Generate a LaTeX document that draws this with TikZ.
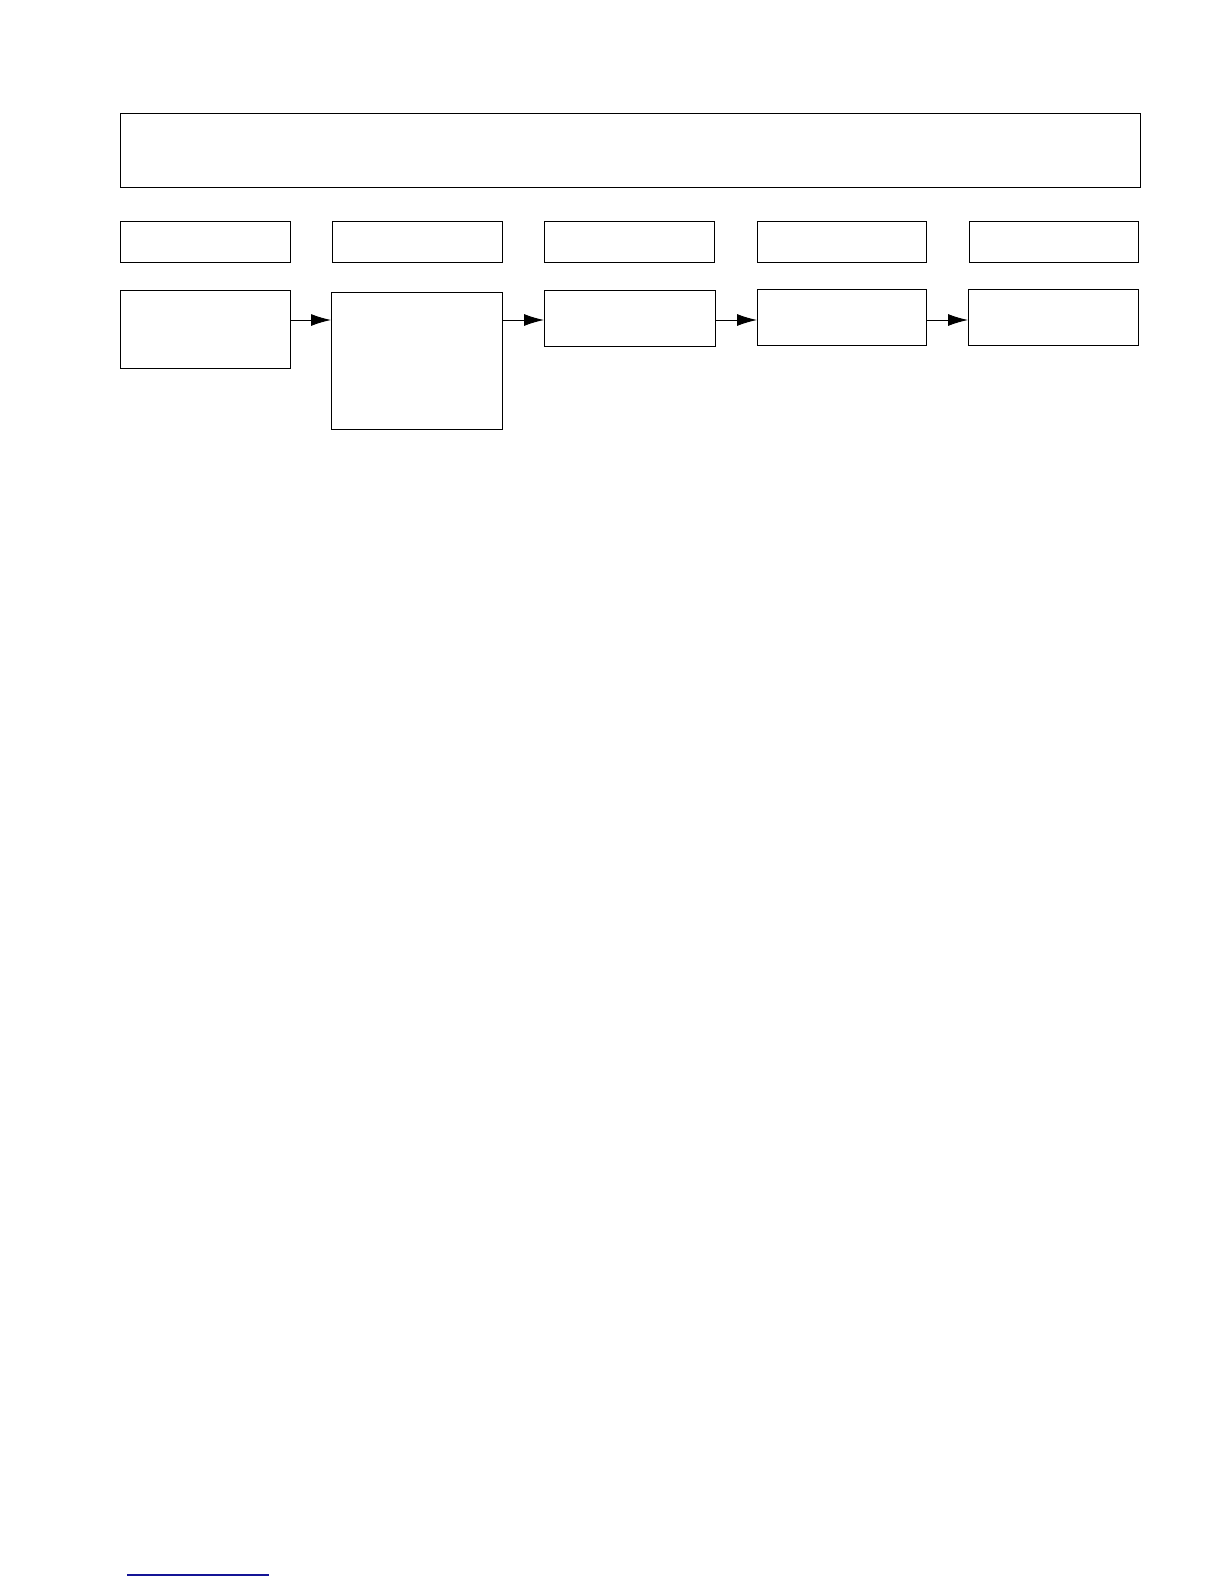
\documentclass[tikz,border=0pt]{standalone}
\usetikzlibrary{arrows.meta}
\definecolor{linkblue}{RGB}{20,20,150}
\begin{document}
\begin{tikzpicture}[x=0.5pt,y=-0.5pt,
  box/.style={draw=black, line width=0.6pt, inner sep=0pt, anchor=north west, fill=none},
  arr/.style={draw=black, line width=0.5pt, -{Latex[length=10pt,width=6pt]}, shorten >=0pt}]
\useasboundingbox[fill=white] (0,0) rectangle (1224,1584);
% top wide box
\node[box, minimum width=510pt, minimum height=37pt] (top) at (120,113) {};
% header row
\node[box, minimum width=84.75pt, minimum height=20.5pt] (h1) at (120,221) {};
\node[box, minimum width=84.75pt, minimum height=20.5pt] (h2) at (332,221) {};
\node[box, minimum width=84.75pt, minimum height=20.5pt] (h3) at (544,221) {};
\node[box, minimum width=84.5pt, minimum height=20.5pt] (h4) at (757,221) {};
\node[box, minimum width=84.5pt, minimum height=20.5pt] (h5) at (969,221) {};
% process row
\node[box, minimum width=85pt, minimum height=39pt] (p1) at (120,290) {};
\node[box, minimum width=85.25pt, minimum height=68.5pt] (p2) at (331,292) {};
\node[box, minimum width=85.25pt, minimum height=28pt] (p3) at (544,290) {};
\node[box, minimum width=84.5pt, minimum height=28pt] (p4) at (757,289) {};
\node[box, minimum width=84.75pt, minimum height=28pt] (p5) at (968,289) {};
% arrows
\coordinate (ay) at (0,320);
\draw[arr] (p1.east |- ay) -- (p2.west |- ay);
\draw[arr] (p2.east |- ay) -- (p3.west |- ay);
\draw[arr] (p3.east |- ay) -- (p4.west |- ay);
\draw[arr] (p4.east |- ay) -- (p5.west |- ay);
% footer rule
\coordinate (fl) at (127,1575);
\coordinate (fr) at (269,1575);
\draw[linkblue, line width=0.6pt] (fl) -- (fr);
\end{tikzpicture}
\end{document}
